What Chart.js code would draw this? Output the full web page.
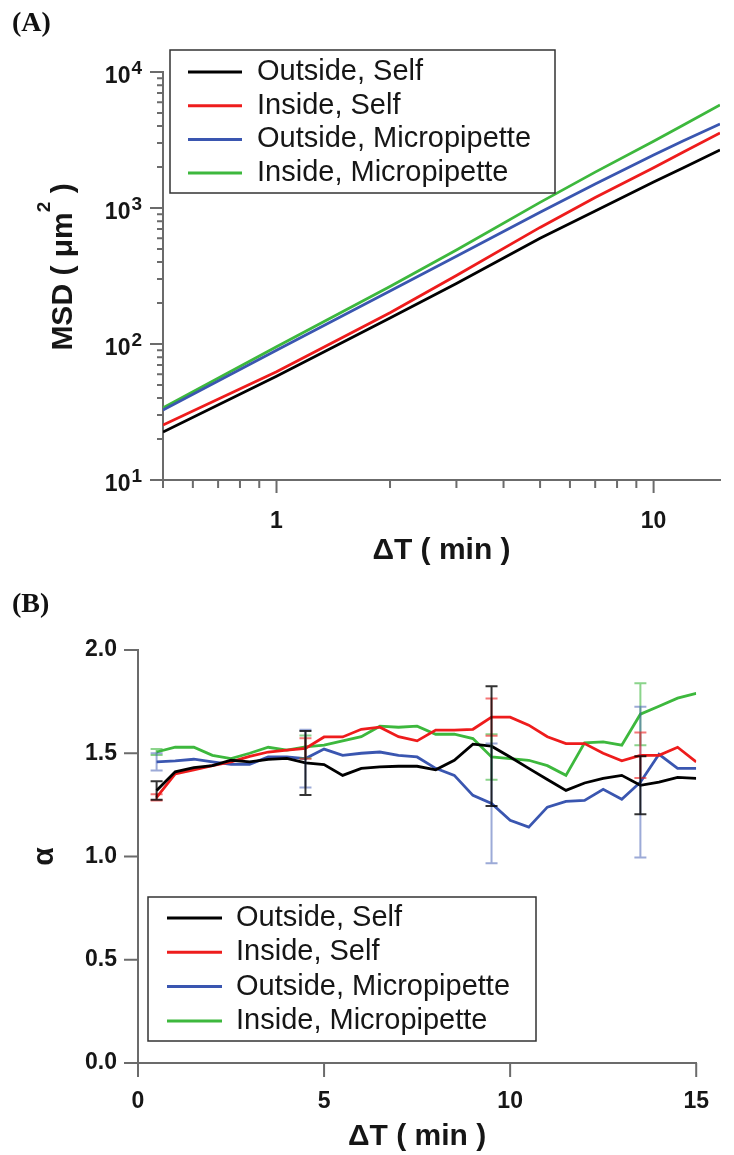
<!DOCTYPE html>
<html>
<head>
<meta charset="utf-8">
<script src="https://cdn.jsdelivr.net/npm/chart.js@4.4.1/dist/chart.umd.min.js"></script>
<style>
  body { margin: 0; background: #fff; }
  #wrap { position: relative; width: 734px; height: 1155px; }
  canvas { position: absolute; left: 0; }
  .tag { position: absolute; left: 12px; z-index: 2; font: bold 28px "Liberation Serif", "Times New Roman", serif; line-height: 28px; color: #111; }
</style>
</head>
<body>
<div id="wrap">
  <canvas id="msdChart" width="734" height="580" style="top:0"></canvas>
  <canvas id="alphaChart" width="734" height="575" style="top:580px"></canvas>
  <div class="tag" style="top:8px">(A)</div>
  <div class="tag" style="top:589px">(B)</div>
</div>
<script>
// (A) MSD vs lag time, log-log
const lagA = [0.5, 1, 2, 3, 5, 7, 10, 12, 15];
const msdOutSelf = [22.5, 58, 155, 279, 600, 951, 1550, 1980, 2670];
const msdInSelf = [25.4, 62.5, 170, 319, 720, 1193, 1980, 2580, 3560];
const msdOutPipette = [32.7, 90, 245, 441, 930, 1499, 2450, 3121, 4150];
const msdInPipette = [33.9, 95.5, 265, 491, 1100, 1835, 3100, 4075, 5720];

const msdXMajor = [1, 10];
const msdXMinor = [0.5, 0.6, 0.7, 0.8, 0.9, 2, 3, 4, 5, 6, 7, 8, 9];
const msdYMajor = [10, 100, 1000, 10000];
const msdYExps = ['1', '2', '3', '4'];
const msdYMinor = [20, 30, 40, 50, 60, 70, 80, 90, 200, 300, 400, 500, 600, 700, 800, 900,
  2000, 3000, 4000, 5000, 6000, 7000, 8000, 9000];

// (B) exponent alpha vs lag time
const lagB = [0.5, 1, 1.5, 2, 2.5, 3, 3.5, 4, 4.5, 5, 5.5, 6, 6.5, 7, 7.5,
  8, 8.5, 9, 9.5, 10, 10.5, 11, 11.5, 12, 12.5, 13, 13.5, 14, 14.5, 15];
const alphaOutSelf = [1.32, 1.41, 1.43, 1.44, 1.466, 1.458, 1.47, 1.475, 1.453, 1.445,
  1.393, 1.427, 1.434, 1.437, 1.437, 1.42, 1.466, 1.544, 1.534, 1.482,
  1.427, 1.373, 1.32, 1.356, 1.378, 1.393, 1.345, 1.36, 1.383, 1.378];
const alphaInSelf = [1.286, 1.40, 1.42, 1.44, 1.458, 1.485, 1.506, 1.515, 1.523, 1.579,
  1.579, 1.616, 1.626, 1.58, 1.56, 1.612, 1.612, 1.616, 1.675, 1.675,
  1.636, 1.58, 1.547, 1.547, 1.50, 1.463, 1.49, 1.49, 1.529, 1.458];
const alphaOutPipette = [1.458, 1.463, 1.471, 1.458, 1.446, 1.446, 1.482, 1.482, 1.474, 1.52,
  1.49, 1.50, 1.506, 1.49, 1.482, 1.427, 1.393, 1.296, 1.257, 1.175,
  1.142, 1.239, 1.267, 1.272, 1.325, 1.277, 1.36, 1.495, 1.427, 1.427];
const alphaInPipette = [1.506, 1.529, 1.529, 1.49, 1.474, 1.50, 1.529, 1.515, 1.531, 1.539,
  1.56, 1.58, 1.631, 1.626, 1.631, 1.592, 1.592, 1.571, 1.482, 1.474,
  1.466, 1.44, 1.393, 1.55, 1.555, 1.539, 1.689, 1.728, 1.767, 1.79];

// error bars only at a few lag times
const errLag = [0.5, 4.5, 9.5, 13.5];
const errOutSelf = [0.045, 0.155, 0.29, 0.14];
const errInSelf = [0.015, 0.05, 0.09, 0.11];
const errOutPipette = [0.042, 0.14, 0.29, 0.365];
const errInPipette = [0.015, 0.055, 0.11, 0.15];

const alphaXTicks = [0, 5, 10, 15];
const alphaYTicks = [0, 0.5, 1, 1.5, 2];

const seriesNames = ['Outside, Self', 'Inside, Self', 'Outside, Micropipette', 'Inside, Micropipette'];
const seriesColors = ['#000000', '#ee1c1c', '#3a56b0', '#3db83d'];
const errColors = ['rgba(0,0,0,0.8)', 'rgba(238,28,28,0.6)', 'rgba(58,86,176,0.5)', 'rgba(61,184,61,0.6)'];

const axisColor = '#6b6b6b';
const textColor = '#161616';
const sans = '"Liberation Sans", Arial, sans-serif';
Chart.defaults.font.family = sans;

// ticks drawn outside the axes, major and minor lengths
const axisTicks = {
  id: 'axisTicks',
  afterDraw(chart, args, o) {
    const ctx = chart.ctx;
    ctx.save();
    ctx.strokeStyle = o.color;
    ctx.lineWidth = 2;
    ctx.beginPath();
    o.marks.forEach(m => {
      const s = chart.scales[m.axis];
      m.values.forEach(v => {
        const p = s.getPixelForValue(v);
        if (s.isHorizontal()) {
          ctx.moveTo(p, s.top);
          ctx.lineTo(p, s.top + m.len);
        } else {
          ctx.moveTo(s.right - m.len, p);
          ctx.lineTo(s.right, p);
        }
      });
    });
    ctx.stroke();
    ctx.restore();
  }
};

// "10" with a raised exponent for the log axis
const powerLabels = {
  id: 'powerLabels',
  afterDraw(chart, args, o) {
    if (!o.axis) return;
    const s = chart.scales[o.axis];
    const ctx = chart.ctx;
    ctx.save();
    ctx.fillStyle = textColor;
    ctx.textAlign = 'right';
    ctx.textBaseline = 'middle';
    o.values.forEach((v, i) => {
      const y = s.getPixelForValue(v);
      const xr = s.right - o.padding;
      ctx.font = 'bold 19px ' + sans;
      const ew = ctx.measureText(o.exps[i]).width;
      ctx.fillText(o.exps[i], xr, y - 3);
      ctx.font = 'bold 23px ' + sans;
      ctx.fillText('10', xr - ew - 1, y + 5);
    });
    ctx.restore();
  }
};

// rotated axis title with a superscript part
const supTitle = {
  id: 'supTitle',
  afterDraw(chart, args, o) {
    if (!o.head) return;
    const ctx = chart.ctx;
    const big = 'bold 30px ' + sans, small = 'bold 19px ' + sans;
    ctx.save();
    ctx.fillStyle = textColor;
    ctx.textAlign = 'left';
    ctx.textBaseline = 'alphabetic';
    ctx.font = big;
    const w1 = ctx.measureText(o.head).width, w3 = ctx.measureText(o.tail).width;
    ctx.font = small;
    const w2 = ctx.measureText(o.sup).width;
    ctx.translate(o.baseline, o.centerY);
    ctx.rotate(-Math.PI / 2);
    let u = -(w1 + w2 + w3) / 2;
    ctx.font = big; ctx.fillText(o.head, u, 0); u += w1;
    ctx.font = small; ctx.fillText(o.sup, u, o.supShift); u += w2;
    ctx.font = big; ctx.fillText(o.tail, u, 0);
    ctx.restore();
  }
};

// boxed legend placed inside the plot
const boxLegend = {
  id: 'boxLegend',
  afterDraw(chart, args, o) {
    const ctx = chart.ctx;
    ctx.save();
    ctx.fillStyle = '#fff';
    ctx.fillRect(o.left, o.top, o.width, o.height);
    ctx.strokeStyle = '#333';
    ctx.lineWidth = 1.5;
    ctx.strokeRect(o.left, o.top, o.width, o.height);
    ctx.font = '29px ' + sans;
    ctx.textBaseline = 'middle';
    chart.data.datasets.forEach((ds, i) => {
      const y = o.firstRow + i * o.rowGap;
      ctx.strokeStyle = ds.borderColor;
      ctx.lineWidth = 3;
      ctx.beginPath();
      ctx.moveTo(o.lineX1, y);
      ctx.lineTo(o.lineX2, y);
      ctx.stroke();
      ctx.fillStyle = textColor;
      ctx.fillText(ds.label, o.textX, y);
    });
    ctx.restore();
  }
};

const errorBars = {
  id: 'errorBars',
  afterDatasetsDraw(chart) {
    const ctx = chart.ctx;
    const xs = chart.scales.x, ys = chart.scales.y;
    ctx.save();
    ctx.lineWidth = 2;
    chart.data.datasets.slice().reverse().forEach(ds => {
      if (!ds.errors) return;
      ctx.strokeStyle = ds.errorColor;
      ds.errors.forEach(e => {
        const px = xs.getPixelForValue(e.x);
        const top = ys.getPixelForValue(e.y + e.err);
        const bot = ys.getPixelForValue(e.y - e.err);
        ctx.beginPath();
        ctx.moveTo(px, top); ctx.lineTo(px, bot);
        ctx.moveTo(px - 6, top); ctx.lineTo(px + 6, top);
        ctx.moveTo(px - 6, bot); ctx.lineTo(px + 6, bot);
        ctx.stroke();
      });
    });
    ctx.restore();
  }
};

const tickFont = { size: 23, weight: 'bold' };
const titleFont = { size: 30, weight: 'bold' };

// panel A
const msdSeries = [msdOutSelf, msdInSelf, msdOutPipette, msdInPipette];
new Chart(document.getElementById('msdChart'), {
  type: 'line',
  data: {
    datasets: msdSeries.map((vals, i) => ({
      label: seriesNames[i],
      data: lagA.map((t, k) => ({ x: t, y: vals[k] })),
      borderColor: seriesColors[i],
      borderWidth: 2.8,
      pointRadius: 0,
      fill: false,
    })),
  },
  options: {
    responsive: false,
    animation: false,
    layout: { padding: { top: 72, right: 14, left: 0, bottom: 0 } },
    plugins: {
      legend: { display: false },
      tooltip: { enabled: false },
      boxLegend: { left: 170, top: 50, width: 385, height: 143, firstRow: 72, rowGap: 33.7, lineX1: 188, lineX2: 242, textX: 257 },
      powerLabels: { axis: 'y', values: msdYMajor, exps: msdYExps, padding: 21 },
      supTitle: { head: 'MSD ( μm', sup: '2', tail: ' )', baseline: 72, centerY: 267, supShift: -22 },
      axisTicks: {
        color: axisColor,
        marks: [
          { axis: 'x', values: msdXMajor, len: 13 },
          { axis: 'x', values: msdXMinor, len: 8 },
          { axis: 'y', values: msdYMajor, len: 13 },
          { axis: 'y', values: msdYMinor, len: 6 },
        ],
      },
    },
    scales: {
      x: {
        type: 'logarithmic',
        min: 0.5,
        max: 15,
        grid: { display: false, drawTicks: false },
        border: { display: true, color: axisColor, width: 2 },
        afterBuildTicks: s => { s.ticks = msdXMajor.map(v => ({ value: v })); },
        afterFit: s => { s.height = 100; },
        ticks: { autoSkip: false, maxRotation: 0, padding: 28, color: textColor, font: tickFont, callback: v => String(v) },
        title: { display: true, text: 'ΔT ( min )', color: textColor, font: titleFont, padding: { top: 0, bottom: 11 } },
      },
      y: {
        type: 'logarithmic',
        min: 10,
        max: 10000,
        grid: { display: false, drawTicks: false },
        border: { display: true, color: axisColor, width: 2 },
        afterBuildTicks: s => { s.ticks = msdYMajor.map(v => ({ value: v })); },
        afterFit: s => { s.width = 163; },
        ticks: { display: false },
      },
    },
  },
  plugins: [axisTicks, powerLabels, supTitle, boxLegend],
});

// panel B
const alphaSeries = [alphaOutSelf, alphaInSelf, alphaOutPipette, alphaInPipette];
const alphaErrs = [errOutSelf, errInSelf, errOutPipette, errInPipette];
new Chart(document.getElementById('alphaChart'), {
  type: 'line',
  data: {
    datasets: alphaSeries.map((vals, i) => ({
      label: seriesNames[i],
      data: lagB.map((t, k) => ({ x: t, y: vals[k] })),
      borderColor: seriesColors[i],
      borderWidth: 2.8,
      pointRadius: 0,
      fill: false,
      errorColor: errColors[i],
      errors: errLag.map((t, k) => ({ x: t, y: vals[lagB.indexOf(t)], err: alphaErrs[i][k] })),
    })),
  },
  options: {
    responsive: false,
    animation: false,
    layout: { padding: { top: 70, right: 19, left: 0, bottom: 0 } },
    plugins: {
      legend: { display: false },
      tooltip: { enabled: false },
      boxLegend: { left: 148, top: 317, width: 388, height: 144, firstRow: 338, rowGap: 34.3, lineX1: 167, lineX2: 222, textX: 236 },
      axisTicks: {
        color: axisColor,
        marks: [
          { axis: 'x', values: alphaXTicks, len: 14 },
          { axis: 'y', values: alphaYTicks, len: 14 },
        ],
      },
    },
    scales: {
      x: {
        type: 'linear',
        min: 0,
        max: 15,
        grid: { display: false, drawTicks: false },
        border: { display: true, color: axisColor, width: 2 },
        afterBuildTicks: s => { s.ticks = alphaXTicks.map(v => ({ value: v })); },
        afterFit: s => { s.height = 92; },
        ticks: { autoSkip: false, maxRotation: 0, padding: 25, color: textColor, font: tickFont, callback: v => String(v) },
        title: { display: true, text: 'ΔT ( min )', color: textColor, font: titleFont, padding: { top: 0, bottom: 0 } },
      },
      y: {
        type: 'linear',
        min: 0,
        max: 2,
        grid: { display: false, drawTicks: false },
        border: { display: true, color: axisColor, width: 2 },
        afterBuildTicks: s => { s.ticks = alphaYTicks.map(v => ({ value: v })); },
        afterFit: s => { s.width = 138; },
        ticks: { autoSkip: false, padding: 21, color: textColor, font: tickFont, callback: v => v.toFixed(1) },
        title: { display: true, text: 'α', color: textColor, font: titleFont, padding: { top: 27, bottom: 0 } },
      },
    },
  },
  plugins: [axisTicks, errorBars, boxLegend],
});
</script>
</body>
</html>
